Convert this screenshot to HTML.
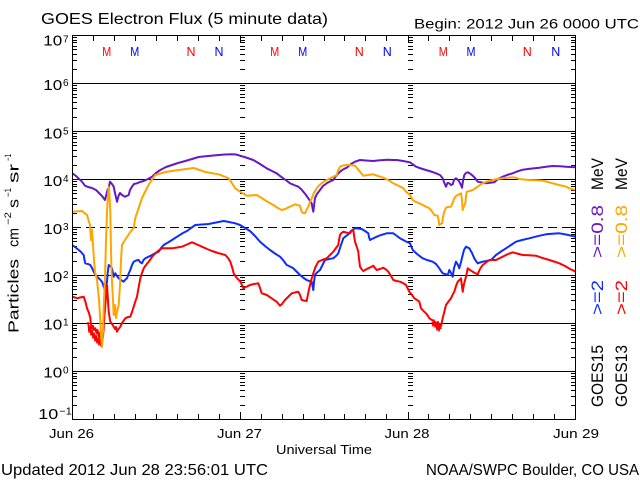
<!DOCTYPE html>
<html><head><meta charset="utf-8"><style>
html,body{margin:0;padding:0;background:#fff;}
svg{display:block;}
text{font-family:"Liberation Sans",sans-serif;fill:#000;}
</style></head><body>
<svg width="640" height="480" viewBox="0 0 640 480" xmlns="http://www.w3.org/2000/svg">
<rect width="640" height="480" fill="#fff"/>
<defs>
<path id="yt" d="M0,405.5h5M0,396.5h5M0,390.5h5M0,385.5h5M0,382.5h5M0,378.5h5M0,376.5h5M0,373.5h5
M0,357.5h5M0,348.5h5M0,342.5h5M0,337.5h5M0,334.5h5M0,330.5h5M0,328.5h5M0,325.5h5
M0,309.5h5M0,300.5h5M0,294.5h5M0,289.5h5M0,286.5h5M0,282.5h5M0,280.5h5M0,277.5h5
M0,261.5h5M0,252.5h5M0,246.5h5M0,241.5h5M0,238.5h5M0,234.5h5M0,232.5h5M0,229.5h5
M0,213.5h5M0,204.5h5M0,198.5h5M0,193.5h5M0,190.5h5M0,186.5h5M0,184.5h5M0,181.5h5
M0,165.5h5M0,156.5h5M0,150.5h5M0,145.5h5M0,142.5h5M0,138.5h5M0,136.5h5M0,133.5h5
M0,117.5h5M0,108.5h5M0,102.5h5M0,97.5h5M0,94.5h5M0,90.5h5M0,88.5h5M0,85.5h5
M0,69.5h5M0,60.5h5M0,54.5h5M0,49.5h5M0,46.5h5M0,42.5h5M0,40.5h5M0,37.5h5
M0,35.5h9M0,83.5h9M0,131.5h9M0,179.5h9M0,227.5h9M0,275.5h9M0,323.5h9M0,371.5h9M0,419.5h9" stroke="#000" stroke-width="1" fill="none"/>
<clipPath id="pc"><rect x="73" y="36" width="502" height="383"/></clipPath>
</defs>

<!-- grid lines -->
<g stroke="#000" stroke-width="1" fill="none">
<path d="M72,83.5H576M72,131.5H576M72,179.5H576M72,275.5H576M72,323.5H576M72,371.5H576"/>
<path d="M72,227.5H576" stroke-dasharray="9,5"/>
<!-- axis box -->
<path d="M72.5,35.5V419.5M575.5,35.5V419.5M72,35.5H576M72,419.5H576"/>
<!-- x ticks bottom / top -->
<path d="M93.5,419V414M114.5,419V414M135.5,419V414M156.5,419V414M177.5,419V414M198.5,419V414M219.5,419V414M240.5,419V412M261.5,419V414M282.5,419V414M303.5,419V414M324.5,419V414M344.5,419V414M365.5,419V414M386.5,419V414M408.5,419V412M428.5,419V414M449.5,419V414M470.5,419V414M491.5,419V414M512.5,419V414M533.5,419V414M554.5,419V414
M93.5,36V41M114.5,36V41M135.5,36V41M156.5,36V41M177.5,36V41M198.5,36V41M219.5,36V41M240.5,36V43M261.5,36V41M282.5,36V41M303.5,36V41M324.5,36V41M344.5,36V41M365.5,36V41M386.5,36V41M408.5,36V43M428.5,36V41M449.5,36V41M470.5,36V41M491.5,36V41M512.5,36V41M533.5,36V41M554.5,36V41"/>
</g>
<use href="#yt" transform="translate(72,0)"/>
<use href="#yt" transform="translate(240,0)"/>
<use href="#yt" transform="translate(408,0)"/>
<use href="#yt" transform="translate(576,0) scale(-1,1)"/>

<!-- data -->
<g clip-path="url(#pc)" fill="none" stroke-width="2" stroke-linejoin="round">
<polyline stroke="#6618c8" points="72,173 76,176 82,181.7 85,185.7 88,187 92,188 96,190 99,193 102,196 105,200 106,196 107.5,190 108.7,188 110,181.7 112,184 113.7,186.7 115,193 117,201.7 118.5,196 120,193 122,195 125,196.7 128.7,195 130,190 132,186.7 134,184 137,183.3 140,182 143.7,181 148,179 152,176.7 156,173 160.3,170 166,167 172,165 178,163 185.3,161 192,159 198.7,157 208,156 218.7,155 225,154.5 232,154.3 236,154.5 240,155.7 246,157.5 253.3,160 260,164 266.7,168.3 272,171 276.7,173.3 280,176 283.3,178.3 287,181 290,183.3 294,185 298.3,186.7 301,189 303.3,191.7 306,195 308.3,198.3 310,201 311.7,203.3 312.5,208 313.3,211.7 314,206 315,198 317,194 320,190 323,186 326.7,183.3 330,181.5 333.3,180 336,176 340,171.7 343,169.5 346.7,167.7 351,164 355,161.7 360,160 366,160.5 373.3,161 380,160.3 386.7,159.7 393,160 396.7,160 403,161 410,162.3 416,166.7 421,168.5 426,170 431,171.5 436,173.3 440,175 442.7,178.3 444,182 446,186.7 447.5,183 449.3,183.3 451,185 452.7,184.3 454,180 456,178.3 458,180 459.3,181.7 461,185 462,187.7 463,181 464.3,175 466,173 467.7,172.3 470,173.5 472.7,175.7 475,178 477.7,181.7 482,182.5 486,183.3 490,182.8 494.3,182.3 498,179 502.7,176.7 507,175 512.7,173.3 517,171.5 522.7,169.7 530,168.7 539.3,167.7 546,166.8 552.7,166 560,166.3 566,166.7 576,167.3"/>
<polyline stroke="#0f2cff" points="72,245 75,247 78.7,250 81,252 83.7,255 84.5,260 85.3,263.3 88,264 90.3,265 92,268 93.7,271.7 95,274 97,276.7 99.5,279 102,281.7 103.5,286 105.3,291.7 106,287 107,281.7 107.8,272 108.7,265 110,266 112,268.3 113,273 113.7,276.7 115.3,273.3 117,276 118.7,278.3 121,280 123.7,281.7 125,280 127,278.3 128.5,274 130.3,270 132,265 133.7,261.7 136,260.5 138.7,260 140,262 142,263.3 143.5,260 145.3,258.3 148,257 152,255 155,253.3 158.7,251.7 161,248 163.7,245 168,242.5 172,240 175,238 178.7,235.7 183,233 187,231 191,228 195.3,225 202,224.5 208.7,224 216,222.5 223.7,221 229,222 235.3,223.3 240,225 245,228 250,231 255,236 260,241.7 265,246 270,250 275,253.5 280,256.7 283,260 286.7,265 290,266.5 293.3,268.3 296,271 300,275 303,277.5 306.7,280 309,281 311.7,281.7 312.5,286 313.3,290 314,282 315,275 317,272.5 320,270 322,266 325,260 329,259 333.3,258.3 336,256 338.3,253.3 341,245 343.3,238.3 346,236 348.3,234.3 351,231 355,228.3 358,228.5 361.7,229 365,231 368.3,233.3 369,237 370,240 373,238.5 376.7,236.7 381,235 386.7,233.3 390,233.3 393.3,233.3 397,236 400,238.3 405,241 410,243.3 412.7,250 417,254 422.7,258.3 427,260 432.7,261.7 436,264 439.3,268.3 441,271 442.7,273.3 445,274 447.7,275 449.3,270 451,273 452.7,276.7 454,268 456,261.7 458,265 459.3,268.3 461,262 462.7,255 464,250 466,246.7 469.3,248.3 472,253 474.3,258.3 476,261 477.7,263.3 480,262.5 482.7,261.7 487,260.8 491,260 493.5,257.5 496,255 501,251.5 506,248.3 511,245 516,241.7 522,240 529.3,238.3 537,236.3 546,234.3 552,233.8 559.3,233.3 566,234.5 576,236.7"/>
<polyline stroke="#ff0000" points="72,296.7 75,297.5 77,298.3 80,297.5 83.7,296.7 85.5,302 87,308.3 89,313 90.3,318.3 91,324 92,328.3 93,326 94,330 95.3,328.3 96.5,333 97.5,330 98.7,336.7 99.5,333 100.3,340 101,335 102,343.3 103,336 103.7,328.3 104.5,315 105.3,305 106,295 107,285 107.8,298 108.7,311.7 109.5,317 110.3,321.7 112,324 113.7,326.7 115,329 116,327 117,331.7 118.5,329 120.3,326.7 122,323 125.3,318.3 128,317 130.3,316.7 132,312 133.7,306.7 135.5,301 137,296.7 138.5,288 140.3,278.3 142,273 143.7,268.3 146,265 148.7,261.7 152,257 155.3,253.3 158.7,250.5 162,248.3 167,248.3 172,248.3 177,247.5 182,246.7 187,244.5 192,242.3 197,244.5 202,246.7 207,249 212,251 218,253 225.3,255 228,258 230.3,261.7 232,267 233.7,273.3 236,277 238.7,280 240,281 242,285 243.3,288.3 246,287 250,285 254,284 258.3,283.3 260,288 261.7,293.3 264,294 266.7,295 269,296.5 271.7,298.3 274,300 276.7,301.7 278,303.5 280,305.7 282,304 285,300 288,297 291.7,293.3 295,292.5 298.3,291.7 300,295 301.7,300 304,300.5 306.7,301 308,294 310,285 311.5,279 313.3,273.3 315.5,267 318.3,261.7 322,260 326.7,258.3 330,255 333.3,251.7 336,248 338.3,245 339,240 340,235 341.5,233 343.3,231.7 346,232.5 350,233.3 351.5,231 353.3,230 354,235 355,241.7 356.5,246 358.3,251.7 359,259 360,266.7 361.5,269 363.3,271 366,269.5 368.3,268.3 371,267 373.3,265.7 375,268 376.7,270 380,269 383.3,267.7 386,269.5 388.3,271.7 391,276 393.3,280 396.5,281 400,281.7 403,283 406,285 409.3,291.7 412,295 414.3,298.3 417,300 419.3,301.7 421,308.3 423.5,311 426,313.3 428,316 429.3,318.3 432,320 434.3,321.7 436,323 437,327 438,322 439.3,328.3 440,324 441,326 442.7,318.3 444.5,311 446,305 448.5,301.5 451,298.3 452.5,295 454.3,291.7 456,286 457.7,281.7 459.5,280 461,278.3 461.8,285 462.7,291.7 464,284 466,276.7 467,272 467.7,268.3 470,270 472.7,271.7 475,273 477.7,274.3 480,269 482.7,265 486,262.5 489.3,260 496,260 499,258.5 502.7,256.7 507,254.5 512.7,252.3 517,253.5 522.7,255 529,255.3 536,255.7 542,257.8 549.3,260 554,261.5 559.3,263.3 565,266 570,269 576,271.7"/>
<polyline stroke="#ff0000" stroke-width="1.5" points="88,322 89,332 90,326 91,335 92,330 93,338 94,333 95,341 96,335 97,343 98,338 99,345 100,339 101,346 102,340 103,333"/>
<polyline stroke="#ff0000" stroke-width="1.5" points="432,322 433,326 434,320 435,327 436,322 437,330 438,325 439,331 440,326 441,329"/>
<polyline stroke="#ffa500" points="72,211.7 82,211 87,215 90,225 91,240 92,230 93,245 94,260 95,272 97,280 99,300 100,315 101,335 102,347 103,330 104,300 105,278 106,240 107,212 108,195 108.7,187 109.5,195 110.3,212 111,250 111.5,272 112,282 113,300 113.7,315 115,305 116,318 117,312 118.7,305 120,285 121,260 122,245 123.7,242 127,237 130.3,232 133.7,228 135.3,218 138.7,208 142,198 147,188 150.3,182 155.3,175 165.3,172 178.7,170 193.7,168 205.3,172 218.7,174.3 228.7,178.3 235.3,188.3 240,191.7 246.7,195.7 256.7,195 260,197 263.3,199 268,202 273.3,205 277,207.5 281.7,210 285,209 290,206.7 295,204.3 300,205.7 301.7,211.7 303,213 305,213.3 306.5,210 308.3,206.7 310,202 311.7,198.3 314,193 316.7,188.3 319,185.5 321.7,183.3 324,181.5 326.7,180 330,178.5 333.3,176.7 336.7,175 338,171 340,166.7 343,165.5 346.7,165 350,165 355,165.7 357,168 360,171.7 363.3,175.7 368,175 373.3,174.3 378,176 383.3,177.7 388,180 393.3,183.3 398,185.5 403.3,188.3 406,191.7 410,195 412.7,200 416,202 419.3,203.3 423,205 426,206.7 429,208 431,210 434.3,215 437.7,215.7 438.5,220 439.3,225 440.5,224 442,223.3 443,217 444.3,211.7 446,207.7 448,207 451,206.7 453,202 454.3,198.3 456,196 457.7,195 461,193.3 462,200 462.7,210 464,206 465.3,203.3 466,197 466.7,191.7 470,191 472.7,190 475,188.5 477.7,186.7 480,185 482.7,183.3 487,181.5 492.7,180 497,179 502.7,178.3 507,177.7 512.7,177.3 516,177.8 519.3,179 524,179.5 529.3,180 536,180.3 542.7,180.7 548,182 552.7,183.3 559,185 566,186.7 570,188.5 576,190"/>
</g>

<!-- M / N markers -->
<g font-size="13" text-anchor="middle">
<text x="106.7" y="56" fill="#ff0000" style="fill:#ff0000" textLength="9" lengthAdjust="spacingAndGlyphs">M</text>
<text x="134.7" y="56" style="fill:#0000ff" textLength="9" lengthAdjust="spacingAndGlyphs">M</text>
<text x="191" y="56" style="fill:#ff0000" textLength="9" lengthAdjust="spacingAndGlyphs">N</text>
<text x="219" y="56" style="fill:#0000ff" textLength="9" lengthAdjust="spacingAndGlyphs">N</text>
<text x="274.7" y="56" style="fill:#ff0000" textLength="9" lengthAdjust="spacingAndGlyphs">M</text>
<text x="302.7" y="56" style="fill:#0000ff" textLength="9" lengthAdjust="spacingAndGlyphs">M</text>
<text x="359.3" y="56" style="fill:#ff0000" textLength="9" lengthAdjust="spacingAndGlyphs">N</text>
<text x="387.3" y="56" style="fill:#0000ff" textLength="9" lengthAdjust="spacingAndGlyphs">N</text>
<text x="443.3" y="56" style="fill:#ff0000" textLength="9" lengthAdjust="spacingAndGlyphs">M</text>
<text x="471" y="56" style="fill:#0000ff" textLength="9" lengthAdjust="spacingAndGlyphs">M</text>
<text x="527.3" y="56" style="fill:#ff0000" textLength="9" lengthAdjust="spacingAndGlyphs">N</text>
<text x="555.7" y="56" style="fill:#0000ff" textLength="9" lengthAdjust="spacingAndGlyphs">N</text>
</g>

<!-- titles -->
<text x="41" y="24" font-size="16" textLength="287" lengthAdjust="spacingAndGlyphs">GOES Electron Flux (5 minute data)</text>
<text x="414" y="28.5" font-size="14" textLength="225" lengthAdjust="spacingAndGlyphs">Begin: 2012 Jun 26 0000 UTC</text>

<!-- y tick labels -->
<g font-size="15">
<text x="43.3" y="45.7" textLength="19" lengthAdjust="spacingAndGlyphs">10</text>
<text x="43.3" y="90" textLength="19" lengthAdjust="spacingAndGlyphs">10</text>
<text x="43.3" y="138.3" textLength="19" lengthAdjust="spacingAndGlyphs">10</text>
<text x="43.3" y="186" textLength="19" lengthAdjust="spacingAndGlyphs">10</text>
<text x="43.3" y="234" textLength="19" lengthAdjust="spacingAndGlyphs">10</text>
<text x="43.3" y="282" textLength="19" lengthAdjust="spacingAndGlyphs">10</text>
<text x="43.3" y="329.5" textLength="19" lengthAdjust="spacingAndGlyphs">10</text>
<text x="43.3" y="377.7" textLength="19" lengthAdjust="spacingAndGlyphs">10</text>
<text x="38.3" y="419" textLength="20" lengthAdjust="spacingAndGlyphs">10</text>
</g>
<g font-size="10">
<text x="63" y="42.5">7</text>
<text x="63" y="86">6</text>
<text x="63" y="134.5">5</text>
<text x="63" y="182">4</text>
<text x="63" y="230">3</text>
<text x="63" y="278">2</text>
<text x="63" y="325.5">1</text>
<text x="63" y="373.7">0</text>
<text x="59.3" y="414.5" textLength="12.5" lengthAdjust="spacingAndGlyphs">−1</text>
</g>

<!-- y axis title -->
<g font-size="15">
<text transform="translate(18.5,333) rotate(-90)" textLength="74" lengthAdjust="spacingAndGlyphs">Particles</text>
<text transform="translate(18.5,247) rotate(-90)" textLength="19" lengthAdjust="spacingAndGlyphs">cm</text>
<text transform="translate(18.5,208) rotate(-90)" textLength="9" lengthAdjust="spacingAndGlyphs">s</text>
<text transform="translate(18.5,183) rotate(-90)" textLength="19" lengthAdjust="spacingAndGlyphs">sr</text>
</g>
<g font-size="9">
<text transform="translate(11,225) rotate(-90)" textLength="13" lengthAdjust="spacingAndGlyphs">−2</text>
<text transform="translate(11,197) rotate(-90)" textLength="9" lengthAdjust="spacingAndGlyphs">−1</text>
<text transform="translate(11,161) rotate(-90)" textLength="7" lengthAdjust="spacingAndGlyphs">−1</text>
</g>

<!-- right legend -->
<g font-size="17">
<text transform="translate(603,407) rotate(-90)" textLength="62" lengthAdjust="spacingAndGlyphs">GOES15</text>
<text transform="translate(603,315) rotate(-90)" style="fill:#0f2cff" textLength="35" lengthAdjust="spacingAndGlyphs">&gt;=2</text>
<text transform="translate(603,258) rotate(-90)" style="fill:#6618c8" textLength="53" lengthAdjust="spacingAndGlyphs">&gt;=0.8</text>
<text transform="translate(603,190) rotate(-90)" textLength="32" lengthAdjust="spacingAndGlyphs">MeV</text>
<text transform="translate(627,407) rotate(-90)" textLength="62" lengthAdjust="spacingAndGlyphs">GOES13</text>
<text transform="translate(627,315) rotate(-90)" style="fill:#ff0000" textLength="35" lengthAdjust="spacingAndGlyphs">&gt;=2</text>
<text transform="translate(627,258) rotate(-90)" style="fill:#ffa500" textLength="53" lengthAdjust="spacingAndGlyphs">&gt;=0.8</text>
<text transform="translate(627,190) rotate(-90)" textLength="32" lengthAdjust="spacingAndGlyphs">MeV</text>
</g>

<!-- x labels -->
<g font-size="13" text-anchor="middle">
<text x="71.5" y="438" textLength="45" lengthAdjust="spacingAndGlyphs">Jun 26</text>
<text x="239.5" y="438" textLength="45" lengthAdjust="spacingAndGlyphs">Jun 27</text>
<text x="407" y="438" textLength="45" lengthAdjust="spacingAndGlyphs">Jun 28</text>
<text x="576" y="438" textLength="46" lengthAdjust="spacingAndGlyphs">Jun 29</text>
</g>
<text x="276" y="454" font-size="13" textLength="96" lengthAdjust="spacingAndGlyphs">Universal Time</text>

<!-- footer -->
<text x="1" y="475" font-size="16" textLength="267" lengthAdjust="spacingAndGlyphs">Updated 2012 Jun 28 23:56:01 UTC</text>
<text x="426" y="475" font-size="16" textLength="213" lengthAdjust="spacingAndGlyphs">NOAA/SWPC Boulder, CO USA</text>
</svg>
</body></html>
